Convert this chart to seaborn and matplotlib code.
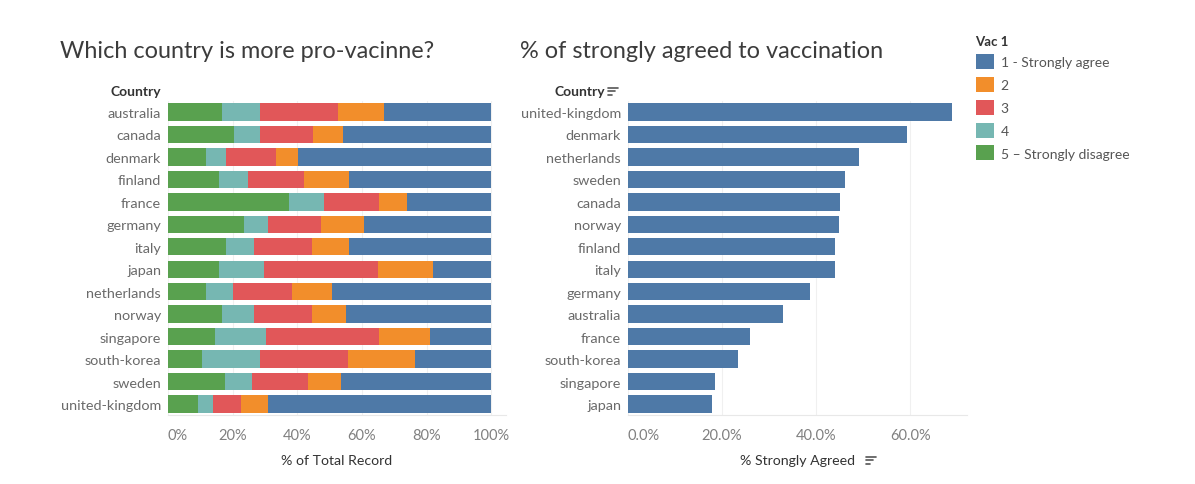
import matplotlib
matplotlib.use("Agg")
import matplotlib.pyplot as plt
import matplotlib.patches as mpatches
from matplotlib.lines import Line2D
import seaborn as sns
import pandas as pd
import numpy as np

# ---------------- data ----------------
countries = ["australia", "canada", "denmark", "finland", "france", "germany", "italy",
             "japan", "netherlands", "norway", "singapore", "south-korea", "sweden",
             "united-kingdom"]
vac5_strongly_disagree = [16.8, 20.5, 11.9, 15.8, 37.5, 23.6, 18.0, 15.8, 11.9, 16.8, 14.6, 10.6, 17.5, 9.4]
vac4 = [11.8, 8.1, 5.9, 9.1, 10.7, 7.4, 8.7, 14.0, 8.2, 9.9, 15.6, 18.0, 8.6, 4.5]
vac3 = [24.1, 16.3, 15.7, 17.2, 17.2, 16.4, 18.0, 35.1, 18.4, 18.0, 35.2, 27.0, 17.2, 8.6]
vac2 = [14.2, 9.4, 6.8, 13.8, 8.7, 13.4, 11.2, 17.2, 12.1, 10.5, 15.6, 20.9, 10.2, 8.5]
vac1_strongly_agree = [33.1, 45.7, 59.7, 44.1, 25.9, 39.2, 44.1, 17.9, 49.4, 44.8, 19.0, 23.5, 46.5, 69.0]

pct_strongly_agreed = [33.0, 45.1, 59.4, 44.1, 25.9, 38.7, 44.0, 17.9, 49.1, 44.8, 18.6, 23.3, 46.2, 69.0]

legend_labels = ["1 - Strongly agree", "2", "3", "4", "5 \u2013 Strongly disagree"]
colors = ["#4e79a7", "#f28e2b", "#e15759", "#76b7b2", "#59a14f"]
left_ticks = [0, 20, 40, 60, 80, 100]
left_ticklabels = ["0%", "20%", "40%", "60%", "80%", "100%"]
right_ticks = [0, 20, 40, 60]
right_ticklabels = ["0.0%", "20.0%", "40.0%", "60.0%"]

# ---------------- style ----------------
sns.set_theme(style="white")
plt.rcParams["font.family"] = ["Lato", "DejaVu Sans"]

W, H = 1195, 485
fig = plt.figure(figsize=(W / 100, H / 100), dpi=100)
fig.patch.set_facecolor("white")

def fx(px):
    return px / W

def fy(py):
    return 1 - py / H

ax_top, ax_bot = 101.8, 416.2
axL = fig.add_axes([fx(168), fy(ax_bot), fx(506) - fx(168), (ax_bot - ax_top) / H])
axR = fig.add_axes([fx(628), fy(ax_bot), fx(967) - fx(628), (ax_bot - ax_top) / H])

# ---------------- left: stacked bars ----------------
df = pd.DataFrame({
    "country": countries,
    "v5": vac5_strongly_disagree,
    "v4": vac4,
    "v3": vac3,
    "v2": vac2,
    "v1": vac1_strongly_agree,
})
stack_cols = ["v5", "v4", "v3", "v2", "v1"]
cum = df[stack_cols].cumsum(axis=1)
for col, colr in zip(["v1", "v2", "v3", "v4", "v5"], colors):
    sns.barplot(x=cum[col].values, y=df["country"], order=countries, orient="h",
                color=colr, saturation=1, width=0.77, ax=axL, linewidth=0)

# ---------------- right: sorted bars ----------------
dfr = pd.DataFrame({"country": countries, "pct": pct_strongly_agreed})
order_r = dfr.sort_values("pct", ascending=False, kind="stable")["country"].tolist()
sns.barplot(data=dfr, x="pct", y="country", order=order_r, orient="h",
            color=colors[0], saturation=1, width=0.77, ax=axR, linewidth=0)

# ---------------- axes styling ----------------
for ax, ticks, tlabels, xmax in [(axL, left_ticks, left_ticklabels, 104.6),
                                 (axR, right_ticks, right_ticklabels, 72.1)]:
    ax.set_xlim(0, xmax)
    ax.set_ylim(13.5, -0.5)
    ax.set_xticks(ticks)
    ax.set_xticklabels(tlabels)
    for s in ["top", "right", "left"]:
        ax.spines[s].set_visible(False)
    ax.spines["bottom"].set_color("#e8e8e8")
    ax.spines["bottom"].set_linewidth(0.8)
    ax.xaxis.grid(True, color="#f0f0f0", linewidth=0.8)
    ax.set_axisbelow(True)
    ax.tick_params(axis="x", length=6, width=0.8, color="#e0e0e0", labelsize=10.5,
                   labelcolor="#808080", pad=3, direction="out")
    ax.tick_params(axis="y", length=0, labelsize=10.4, labelcolor="#6a6a6a", pad=5)
    ax.set_xlabel("")
    ax.set_ylabel("")
    ax.set_facecolor("white")
    ax.get_xticklabels()[0].set_horizontalalignment("left")

# ---------------- texts ----------------
fig.text(fx(60), fy(52), "Which country is more pro-vacinne?", fontsize=16.9,
         color="#3c3c3c", va="center", ha="left")
fig.text(fx(520), fy(52), "% of strongly agreed to vaccination", fontsize=16.9,
         color="#3c3c3c", va="center", ha="left")

fig.text(fx(161), fy(92), "Country", fontsize=10, fontweight="bold", color="#333333",
         ha="right", va="center")
fig.text(fx(605), fy(92), "Country", fontsize=10, fontweight="bold", color="#333333",
         ha="right", va="center")

fig.text(fx(337), fy(461), "% of Total Record", fontsize=10.2, color="#333333",
         ha="center", va="center")
fig.text(fx(797), fy(461), "% Strongly Agreed", fontsize=10.2, color="#333333",
         ha="center", va="center")

def sort_icon(x0, yc):
    for i, L in enumerate([10, 7, 4]):
        y = yc - 3.5 + i * 3.5
        fig.add_artist(Line2D([fx(x0), fx(x0 + L)], [fy(y), fy(y)], color="#555555",
                              linewidth=1.2, transform=fig.transFigure))

sort_icon(608, 92)
sort_icon(866, 461)

# ---------------- legend ----------------
handles = [mpatches.Patch(facecolor=c, edgecolor="none") for c in colors]
leg = fig.legend(handles, legend_labels, title="Vac 1", loc="upper left",
                 bbox_to_anchor=(fx(970), fy(30)), frameon=False, alignment="left",
                 fontsize=10, handlelength=1.3, handleheight=1.3, labelspacing=0.55,
                 handletextpad=0.5, borderaxespad=0,
                 title_fontproperties={"weight": "bold", "size": 9.5})
for t in leg.get_texts():
    t.set_color("#555555")
leg.get_title().set_color("#333333")

fig.savefig("out.png", dpi=100, facecolor="white")
